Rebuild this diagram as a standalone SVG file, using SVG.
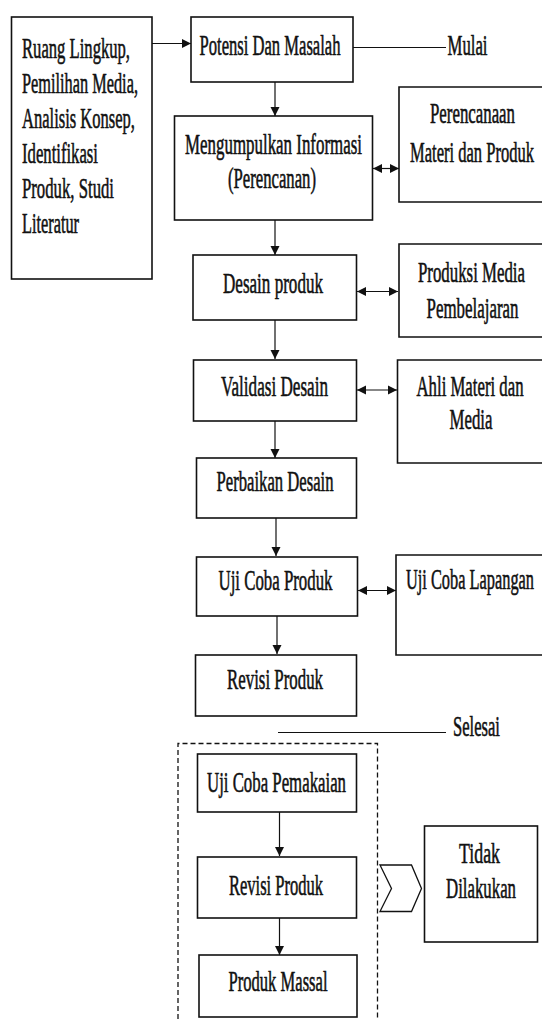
<svg xmlns="http://www.w3.org/2000/svg" width="542" height="1019" viewBox="0 0 542 1019">
<style>
.box{fill:#fff;stroke:#111;stroke-width:1.6}
.obox{fill:#fff;stroke:#111;stroke-width:1.6}
.ln{stroke:#111;stroke-width:1.2;fill:none}
.t{font-family:"Liberation Serif","Times New Roman",serif;font-size:30px;fill:#111;stroke:#111;stroke-width:0.6}
.c{text-anchor:middle}
</style>
<defs>
<marker id="ah" viewBox="0 0 10 10" refX="10" refY="5" markerWidth="9" markerHeight="10" markerUnits="userSpaceOnUse" orient="auto-start-reverse">
<path d="M0,0 L10,5 L0,10 Z" fill="#111"/>
</marker>
</defs>
<rect width="542" height="1019" fill="#fff"/>
<g id="connectors">
<line class="ln" x1="152" y1="43.5" x2="191" y2="43.5" marker-end="url(#ah)"/>
<line class="ln" x1="353" y1="47.5" x2="446" y2="47.5"/>
<line class="ln" x1="275" y1="82" x2="275" y2="116" marker-end="url(#ah)"/>
<line class="ln" x1="373" y1="168.5" x2="399" y2="168.5" stroke-width="2" marker-start="url(#ah)" marker-end="url(#ah)"/>
<line class="ln" x1="275" y1="220" x2="275" y2="255" marker-end="url(#ah)"/>
<line class="ln" x1="357" y1="291.5" x2="398" y2="291.5" stroke-width="2" marker-start="url(#ah)" marker-end="url(#ah)"/>
<line class="ln" x1="275" y1="320" x2="275" y2="359" marker-end="url(#ah)"/>
<line class="ln" x1="357" y1="390" x2="397" y2="390" stroke-width="2" marker-start="url(#ah)" marker-end="url(#ah)"/>
<line class="ln" x1="275" y1="421" x2="275" y2="458" marker-end="url(#ah)"/>
<line class="ln" x1="276" y1="518" x2="276" y2="556" marker-end="url(#ah)"/>
<line class="ln" x1="358" y1="590.5" x2="396" y2="590.5" stroke-width="2" marker-start="url(#ah)" marker-end="url(#ah)"/>
<line class="ln" x1="277" y1="616" x2="277" y2="654" marker-end="url(#ah)"/>
<line class="ln" x1="278" y1="732.5" x2="446" y2="732.5"/>
<line class="ln" x1="279.5" y1="812" x2="279.5" y2="856" marker-end="url(#ah)"/>
<line class="ln" x1="279.5" y1="918" x2="279.5" y2="955" marker-end="url(#ah)"/>
</g>
<g id="n-left">
<rect class="box" x="11.5" y="17" width="140.5" height="262"/>
<text class="t" transform="translate(22,58) scale(0.56,1)" textLength="192.9" lengthAdjust="spacingAndGlyphs">Ruang Lingkup,</text>
<text class="t" transform="translate(22,93) scale(0.56,1)" textLength="207.1" lengthAdjust="spacingAndGlyphs">Pemilihan Media,</text>
<text class="t" transform="translate(22,128) scale(0.56,1)" textLength="201.8" lengthAdjust="spacingAndGlyphs">Analisis Konsep,</text>
<text class="t" transform="translate(22,163) scale(0.56,1)" textLength="135.7" lengthAdjust="spacingAndGlyphs">Identifikasi</text>
<text class="t" transform="translate(22,198) scale(0.56,1)" textLength="164.3" lengthAdjust="spacingAndGlyphs">Produk, Studi</text>
<text class="t" transform="translate(22,233) scale(0.56,1)" textLength="101.8" lengthAdjust="spacingAndGlyphs">Literatur</text>
</g>
<g id="n-potensi">
<rect class="box" x="191" y="17" width="162" height="65"/>
<text class="t c" transform="translate(270,55) scale(0.56,1)" textLength="251.8" lengthAdjust="spacingAndGlyphs">Potensi Dan Masalah</text>
</g>
<g id="n-mulai">
<text class="t" transform="translate(447.5,55) scale(0.56,1)" textLength="71.4" lengthAdjust="spacingAndGlyphs">Mulai</text>
</g>
<g id="n-mengumpulkan">
<rect class="box" x="174.5" y="116" width="198" height="104"/>
<text class="t c" transform="translate(273.5,154) scale(0.56,1)" textLength="316.1" lengthAdjust="spacingAndGlyphs">Mengumpulkan Informasi</text>
<text class="t c" transform="translate(272,188) scale(0.56,1)" textLength="157.1" lengthAdjust="spacingAndGlyphs">(Perencanan)</text>
</g>
<g id="n-perencanaan">
<path class="obox" d="M542,87 H399 V202 H542"/>
<text class="t c" transform="translate(472.5,123) scale(0.56,1)" textLength="151.8" lengthAdjust="spacingAndGlyphs">Perencanaan</text>
<text class="t c" transform="translate(472,162) scale(0.56,1)" textLength="221.4" lengthAdjust="spacingAndGlyphs">Materi dan Produk</text>
</g>
<g id="n-desain">
<rect class="box" x="193" y="255" width="163.5" height="65"/>
<text class="t c" transform="translate(273,293) scale(0.56,1)" textLength="178.6" lengthAdjust="spacingAndGlyphs">Desain produk</text>
</g>
<g id="n-produksi">
<path class="obox" d="M542,244 H399 V337 H542"/>
<text class="t c" transform="translate(471.5,282) scale(0.56,1)" textLength="191.1" lengthAdjust="spacingAndGlyphs">Produksi Media</text>
<text class="t c" transform="translate(472.5,318) scale(0.56,1)" textLength="164.3" lengthAdjust="spacingAndGlyphs">Pembelajaran</text>
</g>
<g id="n-validasi">
<rect class="box" x="193.5" y="360" width="163" height="61"/>
<text class="t c" transform="translate(274.5,396) scale(0.56,1)" textLength="191.1" lengthAdjust="spacingAndGlyphs">Validasi Desain</text>
</g>
<g id="n-ahli">
<path class="obox" d="M542,360 H397.5 V463 H542"/>
<text class="t c" transform="translate(470,396) scale(0.56,1)" textLength="191.1" lengthAdjust="spacingAndGlyphs">Ahli Materi dan</text>
<text class="t c" transform="translate(471,429) scale(0.56,1)" textLength="76.8" lengthAdjust="spacingAndGlyphs">Media</text>
</g>
<g id="n-perbaikan">
<rect class="box" x="196.5" y="458" width="160" height="60"/>
<text class="t c" transform="translate(275,491) scale(0.56,1)" textLength="208.9" lengthAdjust="spacingAndGlyphs">Perbaikan Desain</text>
</g>
<g id="n-ujicoba">
<rect class="box" x="196.5" y="557" width="161" height="59"/>
<text class="t c" transform="translate(275.5,590) scale(0.56,1)" textLength="203.6" lengthAdjust="spacingAndGlyphs">Uji Coba Produk</text>
</g>
<g id="n-lapangan">
<path class="obox" d="M542,555 H396 V655 H542"/>
<text class="t c" transform="translate(470,589) scale(0.56,1)" textLength="228.6" lengthAdjust="spacingAndGlyphs">Uji Coba Lapangan</text>
</g>
<g id="n-revisi1">
<rect class="box" x="195.5" y="655" width="161" height="61"/>
<text class="t c" transform="translate(275,689) scale(0.56,1)" textLength="171.4" lengthAdjust="spacingAndGlyphs">Revisi Produk</text>
</g>
<g id="n-selesai">
<text class="t" transform="translate(453,736) scale(0.56,1)" textLength="83.9" lengthAdjust="spacingAndGlyphs">Selesai</text>
</g>
<g id="n-dashed">
<path d="M178,1019 V743.5 H377.5 V1019" fill="none" stroke="#111" stroke-width="1.3" stroke-dasharray="5,3"/>
</g>
<g id="n-pemakaian">
<rect class="box" x="197.5" y="754" width="159" height="58"/>
<text class="t c" transform="translate(276.5,792) scale(0.56,1)" textLength="248.2" lengthAdjust="spacingAndGlyphs">Uji Coba Pemakaian</text>
</g>
<g id="n-revisi2">
<rect class="box" x="197.5" y="857" width="159" height="61"/>
<text class="t c" transform="translate(276,895) scale(0.56,1)" textLength="167.9" lengthAdjust="spacingAndGlyphs">Revisi Produk</text>
</g>
<g id="n-massal">
<rect class="box" x="199" y="955" width="158" height="62"/>
<text class="t c" transform="translate(278,991) scale(0.56,1)" textLength="176.8" lengthAdjust="spacingAndGlyphs">Produk Massal</text>
</g>
<g id="n-chevron">
<polygon points="380,865 411.5,865 421.5,888.5 411.5,911.5 380,911.5 391.5,888.5" fill="#fff" stroke="#111" stroke-width="1.3"/>
</g>
<g id="n-tidak">
<rect class="box" x="424.5" y="826" width="113" height="116"/>
<text class="t c" transform="translate(479.5,863) scale(0.56,1)" textLength="73.2" lengthAdjust="spacingAndGlyphs">Tidak</text>
<text class="t c" transform="translate(481,898) scale(0.56,1)" textLength="125" lengthAdjust="spacingAndGlyphs">Dilakukan</text>
</g>
</svg>
